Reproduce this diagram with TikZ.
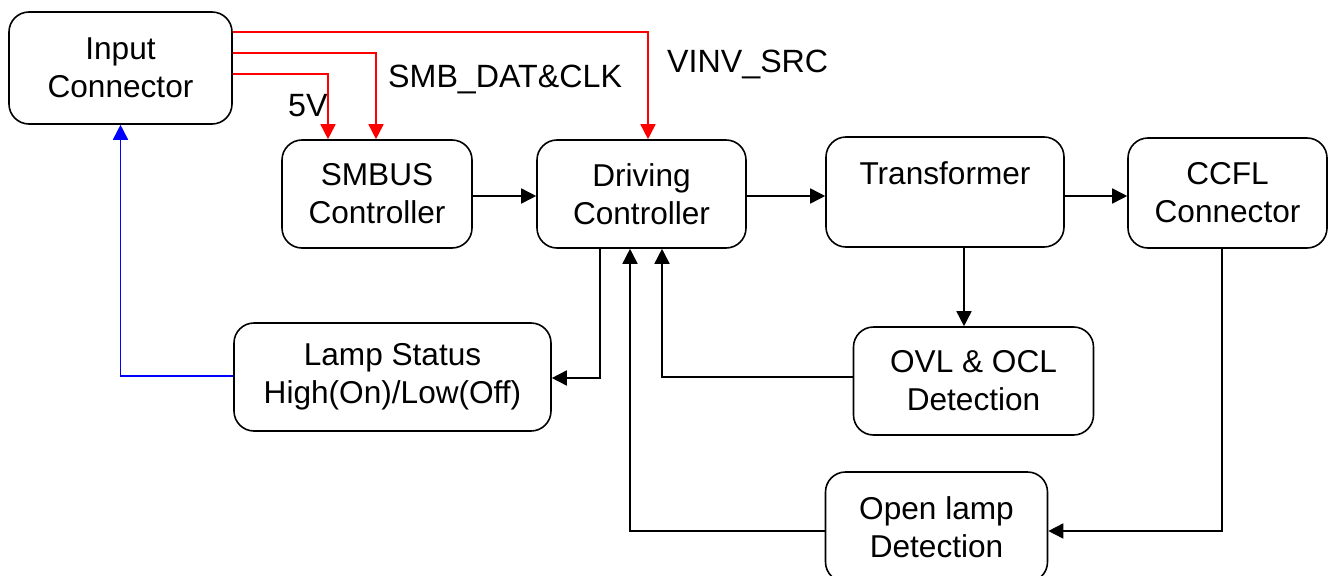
\documentclass[tikz,border=0pt]{standalone}
\usepackage{fontspec}
\setmainfont{Liberation Sans}
\usetikzlibrary{arrows.meta}
\begin{document}
\begin{tikzpicture}[x=1pt,y=-1pt,
  blk/.style={draw=black,line width=1.6pt,rounded corners=20pt,inner sep=0pt,align=center,
    font=\fontsize{31.6}{38}\selectfont},
  con/.style={line width=1.6pt,-{Triangle[length=15pt,width=15pt]}},
  lbl/.style={inner sep=0pt,font=\fontsize{32.2}{38}\selectfont}]
\useasboundingbox[fill=white] (0,0) rectangle (1329,575);
\node[blk,minimum width=223pt,minimum height=112pt] (in) at (120.5,68) {Input\\Connector};
\node[blk,minimum width=190pt,minimum height=108pt] (smb) at (377,194) {SMBUS\\Controller};
\node[blk,minimum width=209pt,minimum height=108pt] (drv) at (641.5,194) {Driving\\Controller};
\node[blk,minimum width=238pt,minimum height=110pt] (tr) at (945,192) {Transformer\\\mbox{}};
\node[blk,minimum width=199pt,minimum height=110pt] (cc) at (1227.5,193) {CCFL\\Connector};
\node[blk,minimum width=317pt,minimum height=108pt] (lamp) at (392.5,377) {Lamp Status\\High(On)/Low(Off)};
\node[blk,minimum width=240pt,minimum height=108pt] (ovl) at (973.5,381) {OVL \& OCL\\Detection};
\node[blk,minimum width=222pt,minimum height=110pt] (open) at (936.5,527) {Open lamp\\Detection};
\node[lbl,anchor=base west] (l5v) at (288,117) {5V};
\node[lbl,anchor=base west] (lsmb) at (388,88) {SMB\_DAT\&CLK};
\node[lbl,anchor=base west] (lvinv) at (667,73) {VINV\_SRC};
% red
\draw[con,red] ([yshift=-21pt]in.north east) -| ([xshift=6.5pt]drv.north);
\draw[con,red] ([yshift=-42pt]in.north east) -| ([xshift=-1pt]smb.north);
\draw[con,red] ([yshift=-63pt]in.north east) -| ([xshift=-49pt]smb.north);
% black
\draw[con] ([yshift=-2pt]smb.east) -- ([yshift=-2pt]smb.east -| drv.west);
\draw[con] ([yshift=-2pt]drv.east) -- ([yshift=-2pt]drv.east -| tr.west);
\draw[con] ([yshift=-4pt]tr.east) -- ([yshift=-4pt]tr.east -| cc.west);
\draw[con] ([xshift=-41.5pt]drv.south) |- ([yshift=-1pt]lamp.east);
\draw[con] ([yshift=4pt]ovl.west) -| ([xshift=20.5pt]drv.south);
\draw[con] ([yshift=-4pt]open.west) -| ([xshift=-11.5pt]drv.south);
\draw[con] ([xshift=19pt]tr.south) -- ([xshift=19pt]tr.south |- ovl.north);
\draw[con] ([xshift=-5.5pt]cc.south) |- ([yshift=-4pt]open.east);
% blue
\draw[con,blue] ([yshift=1pt]lamp.west) -| (in.south);
\end{tikzpicture}
\end{document}
